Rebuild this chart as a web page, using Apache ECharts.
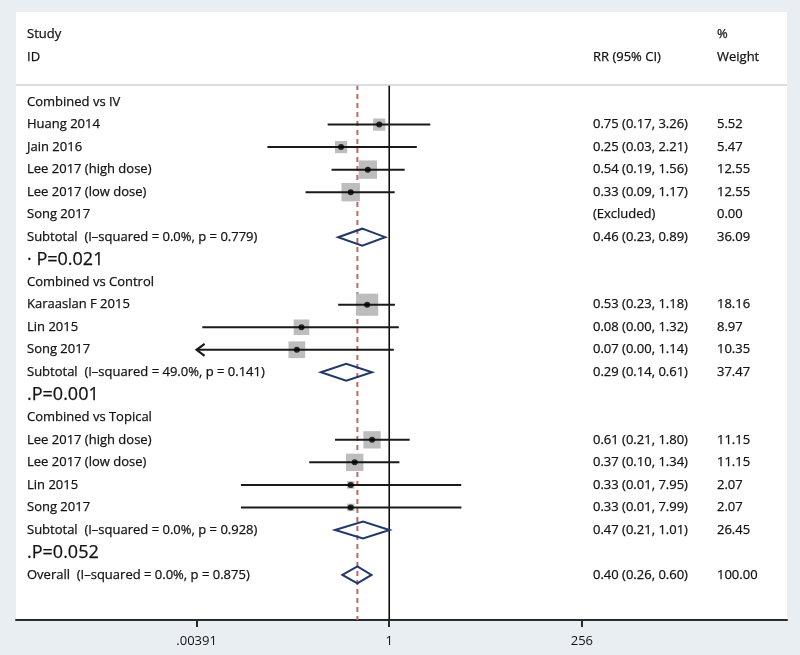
<!DOCTYPE html>
<html><head><meta charset="utf-8">
<script src="https://cdn.jsdelivr.net/npm/echarts@6/dist/echarts.min.js"></script>
<style>html,body{margin:0;padding:0;background:#e8eef1}#c{width:800px;height:655px}</style>
</head><body><div id="c"></div>
<script>
// ---------- data ----------
const rowLabels = [
  'Combined vs IV','Huang 2014','Jain 2016','Lee 2017 (high dose)','Lee 2017 (low dose)','Song 2017',
  'Subtotal  (I\u2013squared = 0.0%, p = 0.779)','\u00b7 P=0.021',
  'Combined vs Control','Karaaslan F 2015','Lin 2015','Song 2017',
  'Subtotal  (I\u2013squared = 49.0%, p = 0.141)','.P=0.001',
  'Combined vs Topical','Lee 2017 (high dose)','Lee 2017 (low dose)','Lin 2015','Song 2017',
  'Subtotal  (I\u2013squared = 0.0%, p = 0.928)','.P=0.052',
  'Overall  (I\u2013squared = 0.0%, p = 0.875)'
];
const ciLabels = [
  '','0.75 (0.17, 3.26)','0.25 (0.03, 2.21)','0.54 (0.19, 1.56)','0.33 (0.09, 1.17)','(Excluded)',
  '0.46 (0.23, 0.89)','',
  '','0.53 (0.23, 1.18)','0.08 (0.00, 1.32)','0.07 (0.00, 1.14)','0.29 (0.14, 0.61)','',
  '','0.61 (0.21, 1.80)','0.37 (0.10, 1.34)','0.33 (0.01, 7.95)','0.33 (0.01, 7.99)','0.47 (0.21, 1.01)','',
  '0.40 (0.26, 0.60)'
];
const weightLabels = [
  '','5.52','5.47','12.55','12.55','0.00','36.09','',
  '','18.16','8.97','10.35','37.47','',
  '','11.15','11.15','2.07','2.07','26.45','',
  '100.00'
];
const headerLeft = ['Study','ID'];
const headerCI = ['','RR (95% CI)'];
const headerWeight = ['%','Weight'];
const headerRows = [-3,-2];

const studyRows = [1,2,3,4,9,10,11,15,16,17,18];
const studyRR = [0.75,0.25,0.54,0.33,0.53,0.08,0.07,0.61,0.37,0.33,0.33];
const studyLo = [0.17,0.03,0.19,0.09,0.23,0.0046,0.00390625,0.21,0.10,0.014,0.014];
const studyHi = [3.26,2.21,1.56,1.17,1.18,1.32,1.14,1.80,1.34,7.95,7.99];
const studyWeight = [5.52,5.47,12.55,12.55,18.16,8.97,10.35,11.15,11.15,2.07,2.07];
const studyArrowLeft = [0,0,0,0,0,0,1,0,0,0,0];

const poolRows = [6,12,19,21];
const poolRR = [0.46,0.29,0.47,0.40];
const poolLo = [0.23,0.14,0.21,0.26];
const poolHi = [0.89,0.61,1.01,0.60];

const overallRR = 0.40;
const tickValues = [0.00390625, 1, 256];
const tickLabels = ['.00391','1','256'];

// ---------- chart ----------
const FONT = '"Open Sans", "Noto Sans", sans-serif';
const TXT = '#141213';
const L2 = Math.log2;
const HEAD_Y = -0.76, AXIS_Y = 23;

function textSeries(texts, rows, xOff, sizeFn) {
  return {
    type: 'custom', coordinateSystem: 'cartesian2d', silent: true, clip: false, z: 10,
    data: rows.map((r, i) => [0, r, i]),
    encode: { x: 0, y: 1 },
    renderItem: (params, api) => {
      const t = texts[api.value(2)];
      const y = api.coord([0, api.value(1)])[1];
      const fs = sizeFn(t);
      return { type: 'text', x: params.coordSys.x + xOff, y: y,
        style: { text: t, fill: TXT, font: fs + 'px ' + FONT, align: 'left', verticalAlign: 'middle',
          stroke: TXT, lineWidth: 0.25 } };
    }
  };
}
const normal = () => 13;
const big = t => (t.indexOf('P=') >= 0 ? 18 : 13);
const allRows = rowLabels.map((_, i) => i);

const tickLog = tickValues.map(L2);

const option = {
  backgroundColor: '#e8eef1',
  animation: false,
  grid: { left: 16, right: 13, top: 12, bottom: 35, show: true, backgroundColor: '#ffffff', borderWidth: 0 },
  xAxis: {
    type: 'value', min: -15.5, max: 16.52,
    splitLine: { show: false },
    axisLine: { show: true, onZero: false, lineStyle: { color: '#2b2b2b', width: 2 } },
    axisTick: { show: true, customValues: tickLog, length: 7, lineStyle: { color: '#2b2b2b', width: 2 } },
    axisLabel: { customValues: tickLog, margin: 15, color: TXT, fontFamily: FONT, fontSize: 13,
      formatter: v => { let k = 0; tickLog.forEach((t, i) => { if (Math.abs(t - v) < 1e-6) k = i; }); return tickLabels[k]; } }
  },
  yAxis: { type: 'value', min: -4, max: AXIS_Y, inverse: true, show: false },
  series: [
    // header separator + reference lines
    { type: 'line', symbol: 'none', silent: true, z: 1,
      data: [[0, HEAD_Y], [0, AXIS_Y]], lineStyle: { color: '#111', width: 1.6 },
      markLine: { silent: true, symbol: 'none', label: { show: false },
        lineStyle: { color: '#cdd3db', width: 1.5, type: 'solid' }, data: [{ yAxis: HEAD_Y }] } },
    { type: 'line', symbol: 'none', silent: true, z: 1,
      data: [[L2(overallRR), HEAD_Y], [L2(overallRR), AXIS_Y]],
      lineStyle: { color: '#b86a68', width: 2, type: [5, 4] } },
    // weight boxes
    { type: 'scatter', silent: true, z: 2, symbol: 'rect',
      data: studyRows.map((r, i) => [L2(studyRR[i]), r, studyWeight[i]]),
      symbolSize: v => 5.2 * Math.sqrt(v[2]),
      itemStyle: { color: '#bdbdbd', opacity: 1 } },
    // CI lines
    { type: 'custom', coordinateSystem: 'cartesian2d', silent: true, z: 3,
      data: studyRows.map((r, i) => [L2(studyLo[i]), r, L2(studyHi[i]), studyArrowLeft[i]]),
      encode: { x: [0, 2], y: 1 },
      renderItem: (params, api) => {
        const a = api.coord([api.value(0), api.value(1)]);
        const b = api.coord([api.value(2), api.value(1)]);
        const ch = [{ type: 'line', shape: { x1: a[0], y1: a[1], x2: b[0], y2: b[1] },
          style: { stroke: '#1a1a1a', lineWidth: 2 } }];
        if (api.value(3)) {
          ch.push({ type: 'polyline', shape: { points: [[a[0] + 8, a[1] - 6], [a[0], a[1]], [a[0] + 8, a[1] + 6]] },
            style: { stroke: '#1a1a1a', lineWidth: 2.2, fill: null } });
        }
        return { type: 'group', children: ch };
      } },
    // point estimates
    { type: 'scatter', silent: true, z: 4, symbol: 'circle', symbolSize: 6,
      data: studyRows.map((r, i) => [L2(studyRR[i]), r]),
      itemStyle: { color: '#000' } },
    // pooled diamonds
    { type: 'custom', coordinateSystem: 'cartesian2d', silent: true, z: 5,
      data: poolRows.map((r, i) => [L2(poolRR[i]), r, L2(poolLo[i]), L2(poolHi[i])]),
      encode: { x: [0, 2, 3], y: 1 },
      renderItem: (params, api) => {
        const c = api.coord([api.value(0), api.value(1)]);
        const l = api.coord([api.value(2), api.value(1)]);
        const h = api.coord([api.value(3), api.value(1)]);
        return { type: 'polygon', shape: { points: [[l[0], c[1]], [c[0], c[1] - 8.5], [h[0], c[1]], [c[0], c[1] + 8.5]] },
          style: { fill: 'rgba(255,255,255,0)', stroke: '#22386b', lineWidth: 2 } };
      } },
    // text columns
    textSeries(rowLabels, allRows, 11, big),
    textSeries(ciLabels, allRows, 577, normal),
    textSeries(weightLabels, allRows, 701, normal),
    textSeries(headerLeft, headerRows, 11, normal),
    textSeries(headerCI, headerRows, 577, normal),
    textSeries(headerWeight, headerRows, 701, normal)
  ]
};
const chart = echarts.init(document.getElementById('c'));
chart.setOption(option);
</script></body></html>
